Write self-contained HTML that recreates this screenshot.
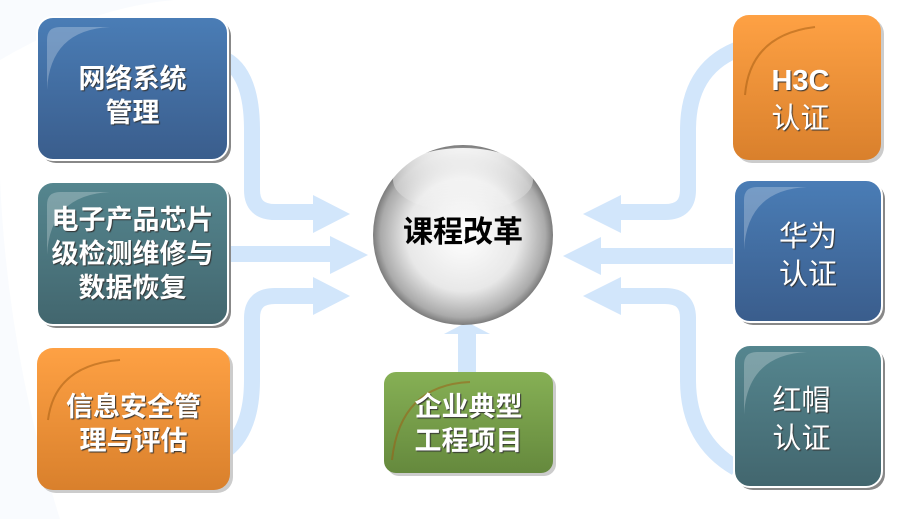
<!DOCTYPE html>
<html><head><meta charset="utf-8"><style>
html,body{margin:0;width:917px;height:519px;overflow:hidden;background:#fff;font-family:"Liberation Sans","Noto Sans CJK SC",sans-serif}
.t{position:absolute;color:#fff;font-weight:bold;text-align:center;text-shadow:1px 1px 1px #333;line-height:34px;font-size:27px}
</style></head><body>
<svg width="917" height="519" style="position:absolute;left:0;top:0">
<defs>
<linearGradient id="bl" x1="0" y1="0" x2="0" y2="1"><stop offset="0" stop-color="#4a7db6"/><stop offset="1" stop-color="#3a5d8c"/></linearGradient>
<linearGradient id="te" x1="0" y1="0" x2="0" y2="1"><stop offset="0" stop-color="#55868f"/><stop offset="1" stop-color="#42666e"/></linearGradient>
<linearGradient id="or" x1="0" y1="0" x2="0" y2="1"><stop offset="0" stop-color="#fea144"/><stop offset="1" stop-color="#d9802c"/></linearGradient>
<linearGradient id="gr" x1="0" y1="0" x2="0" y2="1"><stop offset="0" stop-color="#86b055"/><stop offset="1" stop-color="#65893d"/></linearGradient>
<radialGradient id="ball" cx="0.5" cy="0.5" r="0.52"><stop offset="0" stop-color="#fff"/><stop offset="0.6" stop-color="#e8e8e8"/><stop offset="0.88" stop-color="#aaa"/><stop offset="1" stop-color="#666"/></radialGradient>
<linearGradient id="hl" x1="0" y1="0" x2="0" y2="1"><stop offset="0" stop-color="#fff" stop-opacity=".9"/><stop offset="1" stop-color="#fff" stop-opacity="0"/></linearGradient>
</defs>
<path d="M0 60 Q120 -10 230 0 H0Z M0 519 V60 Q-10 300 60 519Z" fill="#f9fbfe"/>
<g fill="none" stroke="#d2e6fb" stroke-width="16">
<path d="M226 60 Q252 75 252 130 V190 Q252 212 275 212 H318"/>
<path d="M226 254 H335"/>
<path d="M226 450 Q252 430 252 380 V318 Q252 296 275 296 H318"/>
<path d="M736 50 Q688 70 688 130 V190 Q688 212 665 212 H618"/>
<path d="M736 256 H600"/>
<path d="M736 468 Q688 440 688 380 V318 Q688 296 665 296 H618"/>
<path d="M467 372 V330" stroke-width="18"/>
</g>
<g fill="#d2e6fb">
<polygon points="313,195 350,214 313,233"/>
<polygon points="330,236 368,255 330,274"/>
<polygon points="313,277 350,296 313,315"/>
<polygon points="621,195 583,214 621,233"/>
<polygon points="601,237 563,256 601,275"/>
<polygon points="621,277 583,296 621,315"/>
<polygon points="444,334 467,322 490,334"/>
</g>
<g>
<rect x="40" y="20" width="191" height="143" rx="16" fill="#888"/>
<rect x="37" y="17" width="191" height="143" rx="16" fill="url(#bl)" stroke="#fff" stroke-width="2"/>
<rect x="40" y="185" width="191" height="143" rx="16" fill="#888"/>
<rect x="37" y="182" width="191" height="143" rx="16" fill="url(#te)" stroke="#fff" stroke-width="2"/>
<rect x="40" y="351" width="193" height="142" rx="16" fill="#ccc"/>
<rect x="37" y="348" width="193" height="142" rx="16" fill="url(#or)"/>
<rect x="736" y="18" width="148" height="145" rx="16" fill="#ccc"/>
<rect x="733" y="15" width="148" height="145" rx="16" fill="url(#or)"/>
<rect x="737" y="183" width="148" height="142" rx="16" fill="#888"/>
<rect x="734" y="180" width="148" height="142" rx="16" fill="url(#bl)" stroke="#fff" stroke-width="2"/>
<rect x="737" y="348" width="148" height="142" rx="16" fill="#888"/>
<rect x="734" y="345" width="148" height="142" rx="16" fill="url(#te)" stroke="#fff" stroke-width="2"/>
<rect x="387" y="375" width="169" height="101" rx="12" fill="#ccc"/>
<rect x="384" y="372" width="169" height="101" rx="12" fill="url(#gr)"/>
<g fill="#fff" opacity=".25">
<path d="M47 90 Q50 30 110 27 H60 Q47 27 47 40Z"/>
<path d="M47 255 Q50 195 110 192 H60 Q47 192 47 205Z"/>
<path d="M744 250 Q747 190 807 187 H757 Q744 187 744 200Z"/>
<path d="M744 415 Q747 355 807 352 H757 Q744 352 744 365Z"/>
</g>
<g fill="none" stroke="#a05a10" stroke-width="2" opacity=".5">
<path d="M745 95 Q750 35 815 27"/><path d="M48 420 Q55 365 120 360"/><path d="M392 460 Q400 385 470 382"/>
</g>
<circle cx="463" cy="235" r="90" fill="url(#ball)"/>
<ellipse cx="463" cy="180" rx="70" ry="32" fill="url(#hl)"/>
</g>
</svg>
<div class="t" style="left:37px;top:62px;width:191px">网络系统<br>管理</div>
<div class="t" style="left:37px;top:203px;width:191px">电子产品芯片<br>级检测维修与<br>数据恢复</div>
<div class="t" style="left:37px;top:390px;width:193px">信息安全管<br>理与评估</div>
<div class="t" style="left:733px;top:62px;width:135px;font-size:29px;line-height:38px">H3C<br><span style="font-weight:normal">认证</span></div>
<div class="t" style="left:734px;top:218px;width:148px;font-weight:normal;font-size:29px;line-height:38px">华为<br>认证</div>
<div class="t" style="left:734px;top:382px;width:135px;font-weight:normal;font-size:29px;line-height:38px">红帽<br>认证</div>
<div class="t" style="left:384px;top:390px;width:169px">企业典型<br>工程项目</div>
<div class="t" style="left:373px;top:216px;width:180px;color:#000;text-shadow:none;font-size:30px">课程改革</div>
</body></html>
